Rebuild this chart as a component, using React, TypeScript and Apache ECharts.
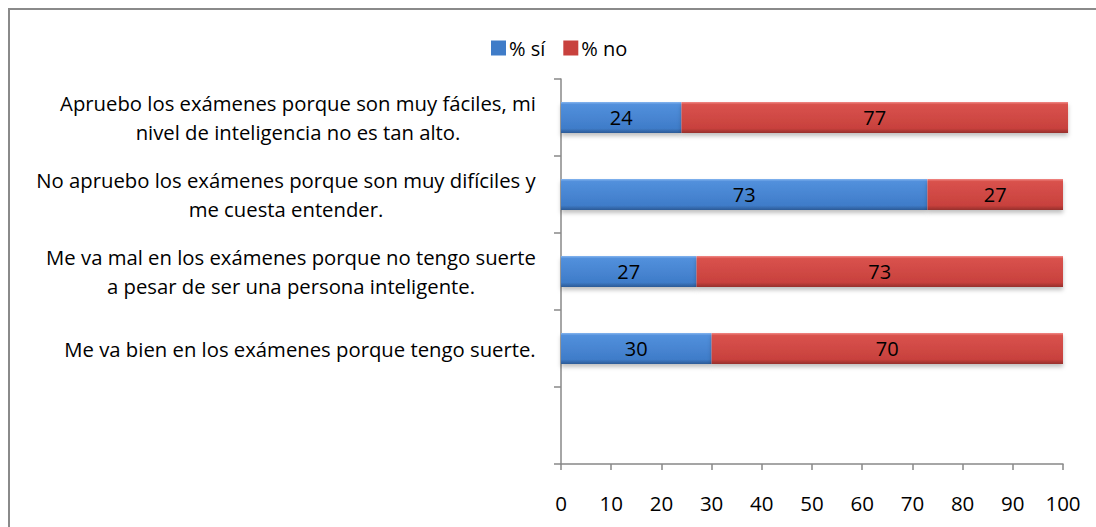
import React, { useEffect, useRef } from 'react';
import * as echarts from 'echarts';

const categories: string[] = [
  '',
  'Me va bien en los exámenes porque tengo suerte.',
  'Me va mal en los exámenes porque no tengo suerte\na pesar de ser una persona inteligente.',
  'No apruebo los exámenes porque son muy difíciles y\nme cuesta entender.',
  'Apruebo los exámenes porque son muy fáciles, mi\nnivel de inteligencia no es tan alto.',
];
const siValues: (number | null)[] = [null, 30, 27, 73, 24];
const noValues: (number | null)[] = [null, 70, 73, 27, 77];
const seriesNames = ['% sí', '% no'];

const FONT = '"Open Sans"';
const LABEL_SIZE = 20.3;

function measure(text: string): number {
  const c = document.createElement('canvas');
  const ctx = c.getContext('2d');
  if (!ctx) return text.length * 9;
  ctx.font = `${LABEL_SIZE}px ${FONT}`;
  return Math.max(...text.split('\n').map((l) => ctx.measureText(l).width));
}

export default function App() {
  const ref = useRef<HTMLDivElement>(null);
  useEffect(() => {
    if (!ref.current) return;
    const chart = echarts.init(ref.current, undefined, { renderer: 'svg' });
    const rich: Record<string, any> = {};
    categories.forEach((c, i) => {
      rich['c' + i] = {
        width: Math.ceil(measure(c)) + 2,
        align: 'center',
        fontSize: LABEL_SIZE,
        fontFamily: FONT,
        color: '#000',
        lineHeight: 29,
      };
    });
    const blueGrad = new echarts.graphic.LinearGradient(0, 0, 0, 1, [
      { offset: 0, color: '#85b5ef' },
      { offset: 0.08, color: '#5290dc' },
      { offset: 0.85, color: '#3f7cc9' },
      { offset: 1, color: '#2c5a96' },
    ]);
    const redGrad = new echarts.graphic.LinearGradient(0, 0, 0, 1, [
      { offset: 0, color: '#f28a86' },
      { offset: 0.08, color: '#d9524d' },
      { offset: 0.85, color: '#c8413d' },
      { offset: 1, color: '#96302d' },
    ]);
    const labelCfg = {
      show: true,
      position: 'inside',
      color: '#000',
      fontSize: 20,
      fontFamily: FONT,
    };
    chart.setOption({
      animation: false,
      backgroundColor: '#fff',
      graphic: [
        {
          type: 'rect',
          shape: { x: 9, y: 9, width: 1200, height: 600 },
          style: { fill: 'none', stroke: '#8a8a8a', lineWidth: 2 },
          silent: true,
        },
      ],
      legend: {
        left: 486,
        top: 33,
        itemWidth: 15,
        itemHeight: 15,
        itemGap: 18,
        icon: 'rect',
        textStyle: { fontSize: 20, fontFamily: FONT, color: '#000', padding: [0, 0, 0, -2] },
        data: [
          { name: seriesNames[0], itemStyle: { color: '#3f7cc8' } },
          { name: seriesNames[1], itemStyle: { color: '#c8413d' } },
        ],
      },
      grid: { left: 561, right: 33, top: 79, bottom: 63, containLabel: false },
      xAxis: {
        type: 'value',
        min: 0,
        max: 100,
        interval: 10,
        axisLine: { show: true, lineStyle: { color: '#888', width: 1.5 } },
        axisTick: { show: true, length: 6, lineStyle: { color: '#888', width: 1.5 } },
        splitLine: { show: false },
        axisLabel: { fontSize: 20.5, fontFamily: FONT, color: '#000', margin: 28 },
      },
      yAxis: {
        type: 'category',
        data: categories,
        axisLine: { show: true, lineStyle: { color: '#888', width: 1.5 } },
        axisTick: { show: true, length: 7, lineStyle: { color: '#888', width: 1.5 } },
        axisLabel: {
          align: 'right',
          margin: 24,
          formatter: (v: string, i: number) =>
            v
              .split('\n')
              .map((l) => `{c${i}|${l}}`)
              .join('\n'),
          rich,
        },
      },
      series: [
        {
          name: seriesNames[0],
          type: 'bar',
          stack: 'total',
          data: siValues,
          barWidth: 31,
          clip: false,
          itemStyle: {
            color: blueGrad,
            shadowColor: 'rgba(0,0,0,0.25)',
            shadowBlur: 4,
            shadowOffsetY: 3,
          },
          label: labelCfg,
        },
        {
          name: seriesNames[1],
          type: 'bar',
          stack: 'total',
          data: noValues,
          barWidth: 31,
          clip: false,
          itemStyle: {
            color: redGrad,
            shadowColor: 'rgba(0,0,0,0.25)',
            shadowBlur: 4,
            shadowOffsetY: 3,
          },
          label: labelCfg,
        },
      ],
    });
    return () => chart.dispose();
  }, []);
  return <div ref={ref} style={{ width: 1096, height: 527, position: 'absolute', left: 0, top: 0 }} />;
}
